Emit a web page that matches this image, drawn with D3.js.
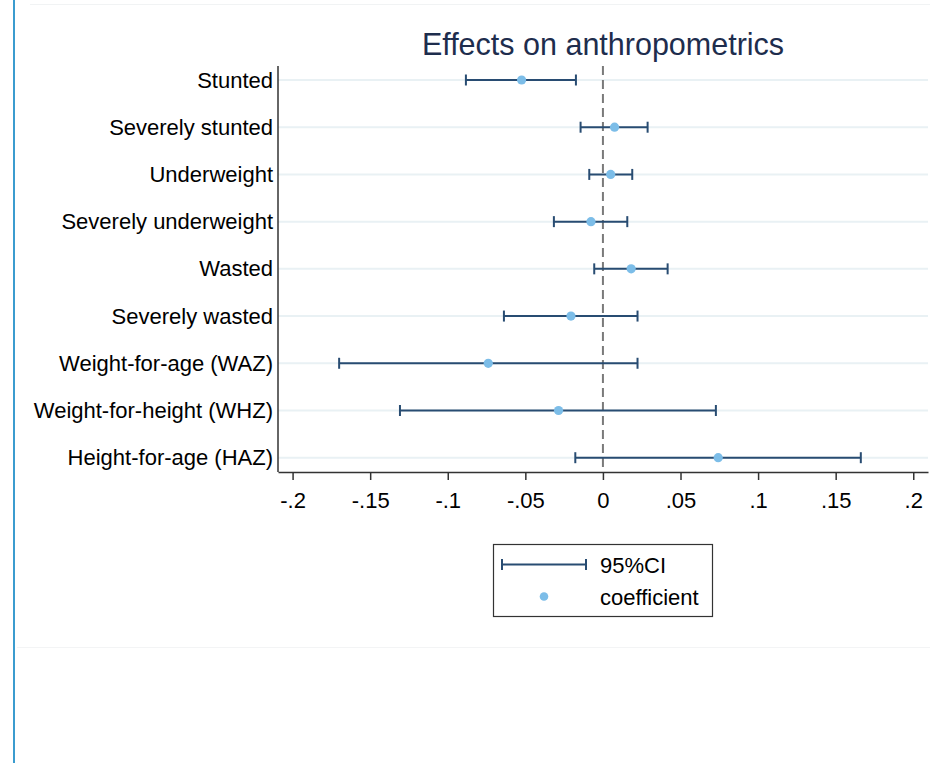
<!DOCTYPE html>
<html>
<head>
<meta charset="utf-8">
<script src="https://cdn.jsdelivr.net/npm/d3@7"></script>
<style>
  body { margin: 0; background: #fff; }
  text { font-family: "Liberation Sans", Arial, sans-serif; }
</style>
</head>
<body>
<div class="container"></div>
<script>
// outcome labels, top to bottom
var outcomes = ["Stunted", "Severely stunted", "Underweight", "Severely underweight", "Wasted",
  "Severely wasted", "Weight-for-age (WAZ)", "Weight-for-height (WHZ)", "Height-for-age (HAZ)"];
var coef  = [-0.0524, 0.0075, 0.0050, -0.0077, 0.0182, -0.0206, -0.0739, -0.0286, 0.0743];
var lower = [-0.0883, -0.0144, -0.0088, -0.0316, -0.0056, -0.0638, -0.1700, -0.1308, -0.0178];
var upper = [-0.0174, 0.0288, 0.0189, 0.0157, 0.0417, 0.0223, 0.0223, 0.0728, 0.1662];
var xTicks = [-0.2, -0.15, -0.1, -0.05, 0, 0.05, 0.1, 0.15, 0.2];
var xTickLabels = ["-.2", "-.15", "-.1", "-.05", "0", ".05", ".1", ".15", ".2"];

var W = 930, H = 763;
var svg = d3.select(".container").append("svg")
  .attr("width", W).attr("height", H);

// page decoration: left blue rule, faint separators
svg.append("line").attr("x1", 14).attr("x2", 14).attr("y1", 0).attr("y2", H)
  .style("stroke", "#3b9ccf").style("stroke-width", 2);
svg.append("line").attr("x1", 30).attr("x2", W).attr("y1", 4.5).attr("y2", 4.5)
  .style("stroke", "#f1f3f4").style("stroke-width", 1);
svg.append("line").attr("x1", 17).attr("x2", W).attr("y1", 647.5).attr("y2", 647.5)
  .style("stroke", "#f3f4f5").style("stroke-width", 1);

var plotL = 278, plotR = 928, plotT = 66, plotB = 472;
var labelFont = "22px";

var x = d3.scaleLinear().domain([-0.2094, 0.2095]).range([plotL, plotR]);
var y = d3.scalePoint().domain(outcomes).range([80, 457.7]);

var rows = outcomes.map(function(d, i) {
  return {name: d, b: coef[i], lo: lower[i], hi: upper[i]};
});

// gridlines
svg.append("g").selectAll("line").data(outcomes).enter().append("line")
  .attr("x1", plotL).attr("x2", plotR)
  .attr("y1", function(d) { return y(d); }).attr("y2", function(d) { return y(d); })
  .style("stroke", "#e9f1f4").style("stroke-width", 2);

// zero reference
svg.append("line")
  .attr("x1", x(0)).attr("x2", x(0)).attr("y1", plotT).attr("y2", plotB)
  .style("stroke", "#7a7a7a").style("stroke-width", 2)
  .style("stroke-dasharray", "9,5");

// x axis
var xAxis = svg.append("g")
  .attr("transform", "translate(0," + plotB + ")")
  .call(d3.axisBottom(x).tickValues(xTicks)
    .tickFormat(function(d, i) { return xTickLabels[i]; })
    .tickSizeInner(8).tickSizeOuter(0).tickPadding(12));
xAxis.select(".domain").style("stroke", "#333").style("stroke-width", 1.5);
xAxis.selectAll(".tick line").style("stroke", "#333").style("stroke-width", 1.5);
xAxis.selectAll("text").style("font-size", labelFont).style("fill", "#000")
  .style("font-family", "'Liberation Sans', Arial, sans-serif");

// y axis
var yAxis = svg.append("g")
  .attr("transform", "translate(" + plotL + ",0)")
  .call(d3.axisLeft(y).tickSize(0).tickPadding(5));
yAxis.select(".domain").attr("d", "M0," + plotT + "V" + plotB)
  .style("stroke", "#333").style("stroke-width", 1.5);
yAxis.selectAll("text").style("font-size", labelFont).style("fill", "#000")
  .style("font-family", "'Liberation Sans', Arial, sans-serif");

var ciColor = "#284c72", dotColor = "#7cbde8";

// confidence intervals
var ci = svg.append("g");
ci.selectAll("line.ci").data(rows).enter().append("line")
  .attr("class", "ci")
  .attr("x1", function(d) { return x(d.lo); }).attr("x2", function(d) { return x(d.hi); })
  .attr("y1", function(d) { return y(d.name); }).attr("y2", function(d) { return y(d.name); })
  .style("stroke", ciColor).style("stroke-width", 2);
["lo", "hi"].forEach(function(k) {
  ci.selectAll("line.cap-" + k).data(rows).enter().append("line")
    .attr("class", "cap-" + k)
    .attr("x1", function(d) { return x(d[k]); }).attr("x2", function(d) { return x(d[k]); })
    .attr("y1", function(d) { return y(d.name) - 5.5; })
    .attr("y2", function(d) { return y(d.name) + 5.5; })
    .style("stroke", ciColor).style("stroke-width", 2);
});

// coefficients
svg.append("g").selectAll("circle").data(rows).enter().append("circle")
  .attr("cx", function(d) { return x(d.b); })
  .attr("cy", function(d) { return y(d.name); })
  .attr("r", 4.6)
  .attr("fill", dotColor);

// title
svg.append("text")
  .attr("x", (plotL + plotR) / 2).attr("y", 55)
  .attr("text-anchor", "middle")
  .style("font-size", "30.5px").style("fill", "#1e2d4d")
  .text("Effects on anthropometrics");

// legend
var lg = svg.append("g");
lg.append("rect").attr("x", 493.5).attr("y", 544.5).attr("width", 219).attr("height", 72)
  .style("fill", "#fff").style("stroke", "#333").style("stroke-width", 1.2);
lg.append("line").attr("x1", 502).attr("x2", 586).attr("y1", 564.5).attr("y2", 564.5)
  .style("stroke", ciColor).style("stroke-width", 2);
[502, 586].forEach(function(cx) {
  lg.append("line").attr("x1", cx).attr("x2", cx).attr("y1", 559).attr("y2", 570)
    .style("stroke", ciColor).style("stroke-width", 2);
});
lg.append("circle").attr("cx", 544).attr("cy", 596.5).attr("r", 4.3).attr("fill", dotColor);
lg.append("text").attr("x", 600).attr("y", 573).style("font-size", labelFont).text("95%CI");
lg.append("text").attr("x", 600).attr("y", 605).style("font-size", labelFont).text("coefficient");
</script>
</body>
</html>
